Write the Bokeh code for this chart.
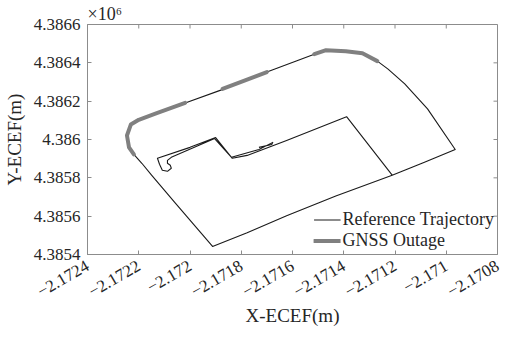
import numpy as np
from bokeh.plotting import figure
from bokeh.models import Range1d, FixedTicker, Legend, LegendItem
from bokeh.embed import file_html
from bokeh.resources import INLINE

# ---- data (ECEF metres) ----
traj_x = [-2171211, -2171085, -2170965, -2171073, -2171162, -2171227, -2171269,
          -2171327, -2171392, -2171469, -2171515, -2171700, -2171877, -2172027,
          -2172135, -2172200, -2172231, -2172246, -2172238, -2172219, -2172188,
          -2172150, -2172058, -2171912, -2171777, -2171623, -2171431, -2171211,
          -2171389, -2171623, -2171777, -2171835, -2171900, -2172000, -2172127,
          -2172119, -2172108, -2172088, -2172073, -2172077, -2172088, -2172088,
          -2172073, -2171904, -2171838, -2171731, -2171677, -2171681, -2171731]
traj_y = [4385814, 4385881, 4385948, 4386160, 4386290, 4386367, 4386409,
          4386450, 4386460, 4386466, 4386445, 4386352, 4386259, 4386186,
          4386135, 4386103, 4386078, 4386021, 4385959, 4385922, 4385876,
          4385814, 4385669, 4385442, 4385514, 4385602, 4385705, 4385814,
          4386119, 4385995, 4385917, 4385902, 4386010, 4385959, 4385902,
          4385871, 4385840, 4385834, 4385850, 4385866, 4385876, 4385891,
          4385907, 4386005, 4385907, 4385948, 4385985, 4385974, 4385959]

outage_x = [-2172019, -2172135, -2172200, -2172231, -2172246, -2172238, -2172219, np.nan,
            -2171873, -2171785, -2171700, np.nan,
            -2171515, -2171469, -2171392, -2171327, -2171269]
outage_y = [4386191, 4386135, 4386103, 4386078, 4386021, 4385959, 4385922, np.nan,
            4386264, 4386308, 4386352, np.nan,
            4386445, 4386466, 4386460, 4386450, 4386409]

x_ticks = [-2172400, -2172200, -2172000, -2171800, -2171600, -2171400, -2171200, -2171000, -2170800]
x_tick_labels = ["\u22122.1724", "\u22122.1722", "\u22122.172", "\u22122.1718", "\u22122.1716",
                 "\u22122.1714", "\u22122.1712", "\u22122.171", "\u22122.1708"]
y_ticks = [4385400, 4385600, 4385800, 4386000, 4386200, 4386400, 4386600]
y_tick_labels = ["4.3854", "4.3856", "4.3858", "4.386", "4.3862", "4.3864", "4.3866"]

FONT = "Liberation Serif"
TXT = "#262626"
AXC = "#8c8c8c"

p = figure(frame_width=410, frame_height=230, output_backend="svg", toolbar_location=None,
           x_range=Range1d(x_ticks[0], x_ticks[-1]), y_range=Range1d(y_ticks[0], y_ticks[-1]),
           min_border_left=80, min_border_top=24, min_border_right=4, min_border_bottom=0,
           title="\u00d710\u2076")
p.title.align = "left"
p.title.offset = 0
p.title.standoff = 1
p.title.text_font = FONT
p.title.text_font_size = "18px"
p.title.text_font_style = "normal"
p.title.text_color = TXT

p.xgrid.visible = False
p.ygrid.visible = False
p.outline_line_color = AXC
p.background_fill_color = "white"

xa = p.xaxis[0]
xa.ticker = FixedTicker(ticks=x_ticks)
xa.major_label_overrides = dict(zip(x_ticks, x_tick_labels))
xa.major_label_orientation = np.pi / 6
xa.axis_label = "X-ECEF(m)"

ya = p.yaxis[0]
ya.ticker = FixedTicker(ticks=y_ticks)
ya.major_label_overrides = dict(zip(y_ticks, y_tick_labels))
ya.axis_label = "Y-ECEF(m)"

for ax in (xa, ya):
    ax.axis_line_color = AXC
    ax.major_tick_line_color = AXC
    ax.major_tick_in = 4
    ax.major_tick_out = 0
    ax.minor_tick_line_color = None
    ax.major_label_text_font = FONT
    ax.major_label_text_font_size = "17px"
    ax.major_label_text_color = TXT
    ax.axis_label_text_font = FONT
    ax.axis_label_text_font_size = "19px"
    ax.axis_label_text_font_style = "normal"
    ax.axis_label_text_color = TXT
xa.major_label_standoff = 10
xa.axis_label_standoff = 0
ya.major_label_standoff = 7
ya.axis_label_standoff = 6

# inward tick marks mirrored on the top and right edges of the box
p.ray(x=x_ticks, y=[y_ticks[-1]] * len(x_ticks), length=4, angle=-np.pi / 2,
      length_units="screen", line_color=AXC, line_width=1)
p.ray(x=[x_ticks[-1]] * len(y_ticks), y=y_ticks, length=4, angle=np.pi,
      length_units="screen", line_color=AXC, line_width=1)

r_ref = p.line(traj_x, traj_y, line_color="#1a1a1a", line_width=1.1, line_join="round")
r_out = p.line(outage_x, outage_y, line_color="#808080", line_width=4, line_join="round",
               line_cap="round")

leg = Legend(items=[LegendItem(label="Reference Trajectory", renderers=[r_ref]),
                    LegendItem(label="GNSS Outage", renderers=[r_out])],
             location="bottom_right", border_line_color=None, background_fill_alpha=0,
             label_text_font=FONT, label_text_font_size="18px", label_text_color=TXT,
             glyph_width=27, glyph_height=17, label_height=17, label_standoff=2,
             spacing=-3, padding=1, margin=3)
p.add_layout(leg, "center")

open("out.html", "w").write(file_html(p, INLINE))
